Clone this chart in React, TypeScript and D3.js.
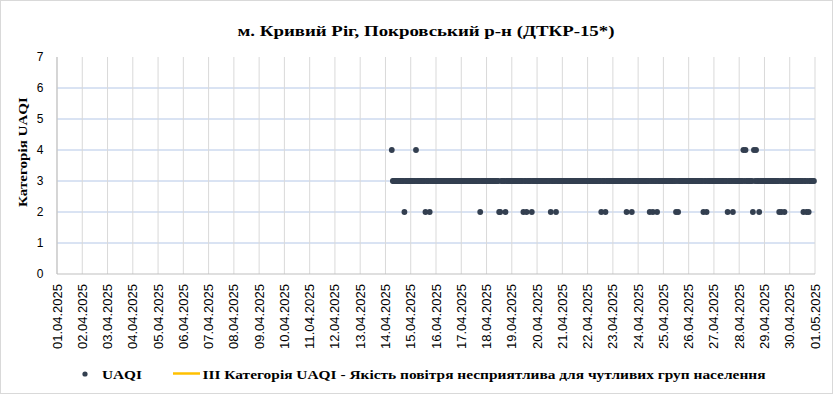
import React from 'react';
import * as d3 from 'd3';

const title = 'м. Кривий Ріг, Покровський р-н (ДТКР-15*)';
const yTitle = 'Категорія UAQI';
const seriesName = 'UAQI';
const thresholdName = 'III Категорія UAQI - Якість повітря несприятлива для чутливих груп населення';

const startDate = new Date(Date.UTC(2025, 3, 1));
const endDate = new Date(Date.UTC(2025, 4, 1));
const yTicks = [0, 1, 2, 3, 4, 5, 6, 7];
const thresholdValue = 3;

// hourly UAQI category from 14.04, one string per day, 4 groups of 6 hours, '.' = no data
const firstDay = new Date(Date.UTC(2025, 3, 14));
const hourlyByDay = [
    '...... 433333 333333 233333', // 14.04
    '333334 333333 332333 233333', // 15.04
    '333333 333333 333333 333333', // 16.04
    '333333 333333 333333 233333', // 17.04
    '333333 333333 223333 233333', // 18.04
    '333333 333332 332333 323333', // 19.04
    '333333 333333 323333 233333', // 20.04
    '333333 333333 333333 333333', // 21.04
    '333333 333333 323332 333333', // 22.04
    '333333 333333 323333 233333', // 23.04
    '333333 333332 332333 233333', // 24.04
    '333333 333333 232333 333333', // 25.04
    '333333 333333 332332 333333', // 26.04
    '333333 333333 323333 233333', // 27.04
    '333343 433333 324343 323333', // 28.04
    '333333 333333 332323 323333', // 29.04
    '333333 333333 323323 233333', // 30.04
];

const W = 833;
const H = 394;
const plot = { left: 57, right: 815, top: 57, bottom: 274 };
const dotColor = '#333F50';
const lineColor = '#FFC000';

const points = hourlyByDay.flatMap((day, d) =>
    day.replace(/ /g, '').split('').map((c, h) =>
        c === '.' ? null : {
            t: new Date(firstDay.getTime() + (d * 24 + h) * 3600e3),
            v: +c
        }
    )
).filter(Boolean) as { t: Date, v: number }[];

export default function App() {
    const x = d3.scaleUtc().domain([startDate, endDate]).range([plot.left, plot.right]);
    const y = d3.scaleLinear().domain([0, 7]).range([plot.bottom, plot.top]);
    const days = d3.utcDay.range(startDate, d3.utcDay.offset(endDate, 1));
    const fmt = d3.utcFormat('%d.%m.%Y');

    const tExtent = d3.extent(points, p => p.t) as [Date, Date];
    const threshold = d3.line<Date>()
        .x(t => x(t))
        .y(() => y(thresholdValue));

    return (
        <svg width={W} height={H} style={{ position: 'absolute', left: 0, top: 0, background: '#fff' }}>
            <rect x={0.5} y={0.5} width={W - 1} height={H - 1} fill="#fff" stroke="#D9D9D9" />

            <text x={426} y={36} textAnchor="middle" fontFamily="Liberation Serif" fontWeight="bold"
                fontSize={15} textLength={377} lengthAdjust="spacingAndGlyphs">{title}</text>

            {/* grid */}
            {yTicks.filter(v => v > 0 && v < 7).map(v => (
                <line key={'h' + v} x1={plot.left} x2={plot.right} y1={y(v)} y2={y(v)} stroke="#B4C7E7" strokeWidth={1} />
            ))}
            {days.map(d => (
                <line key={'v' + d.getTime()} x1={x(d)} x2={x(d)} y1={plot.top} y2={plot.bottom} stroke="#D9D9D9" strokeWidth={1} />
            ))}
            <line x1={plot.left} x2={plot.right} y1={plot.bottom} y2={plot.bottom} stroke="#BFBFBF" />
            <line x1={plot.left} x2={plot.left} y1={plot.top} y2={plot.bottom} stroke="#BFBFBF" />

            {/* y axis */}
            {yTicks.map(v => (
                <text key={'yl' + v} x={43.5} y={y(v) + 4} textAnchor="end" fontFamily="Liberation Sans" fontSize={12}>{v}</text>
            ))}
            <text transform="translate(27,152) rotate(-90)" textAnchor="middle" fontFamily="Liberation Serif"
                fontWeight="bold" fontSize={13} textLength={110} lengthAdjust="spacingAndGlyphs">{yTitle}</text>

            {/* x axis */}
            {days.map(d => (
                <text key={'xl' + d.getTime()} transform={`translate(${x(d) + 4.5},284) rotate(-90)`} textAnchor="end"
                    fontFamily="Liberation Sans" fontSize={12} textLength={65} lengthAdjust="spacingAndGlyphs">{fmt(d)}</text>
            ))}

            {/* series */}
            <path d={threshold([tExtent[0], tExtent[1]]) || ''} stroke={lineColor} strokeWidth={2.25} fill="none" />
            {points.map((p, i) => (
                <circle key={i} cx={x(p.t)} cy={y(p.v)} r={2.9} fill={dotColor} />
            ))}

            {/* legend */}
            <circle cx={85} cy={374} r={2.6} fill={dotColor} />
            <text x={102} y={378.5} fontFamily="Liberation Serif" fontWeight="bold" fontSize={13}
                textLength={40} lengthAdjust="spacingAndGlyphs">{seriesName}</text>
            <line x1={173} x2={200} y1={373.5} y2={373.5} stroke={lineColor} strokeWidth={2.5} />
            <text x={202.5} y={378.5} fontFamily="Liberation Serif" fontWeight="bold" fontSize={13}
                textLength={563} lengthAdjust="spacingAndGlyphs">{thresholdName}</text>
        </svg>
    );
}
